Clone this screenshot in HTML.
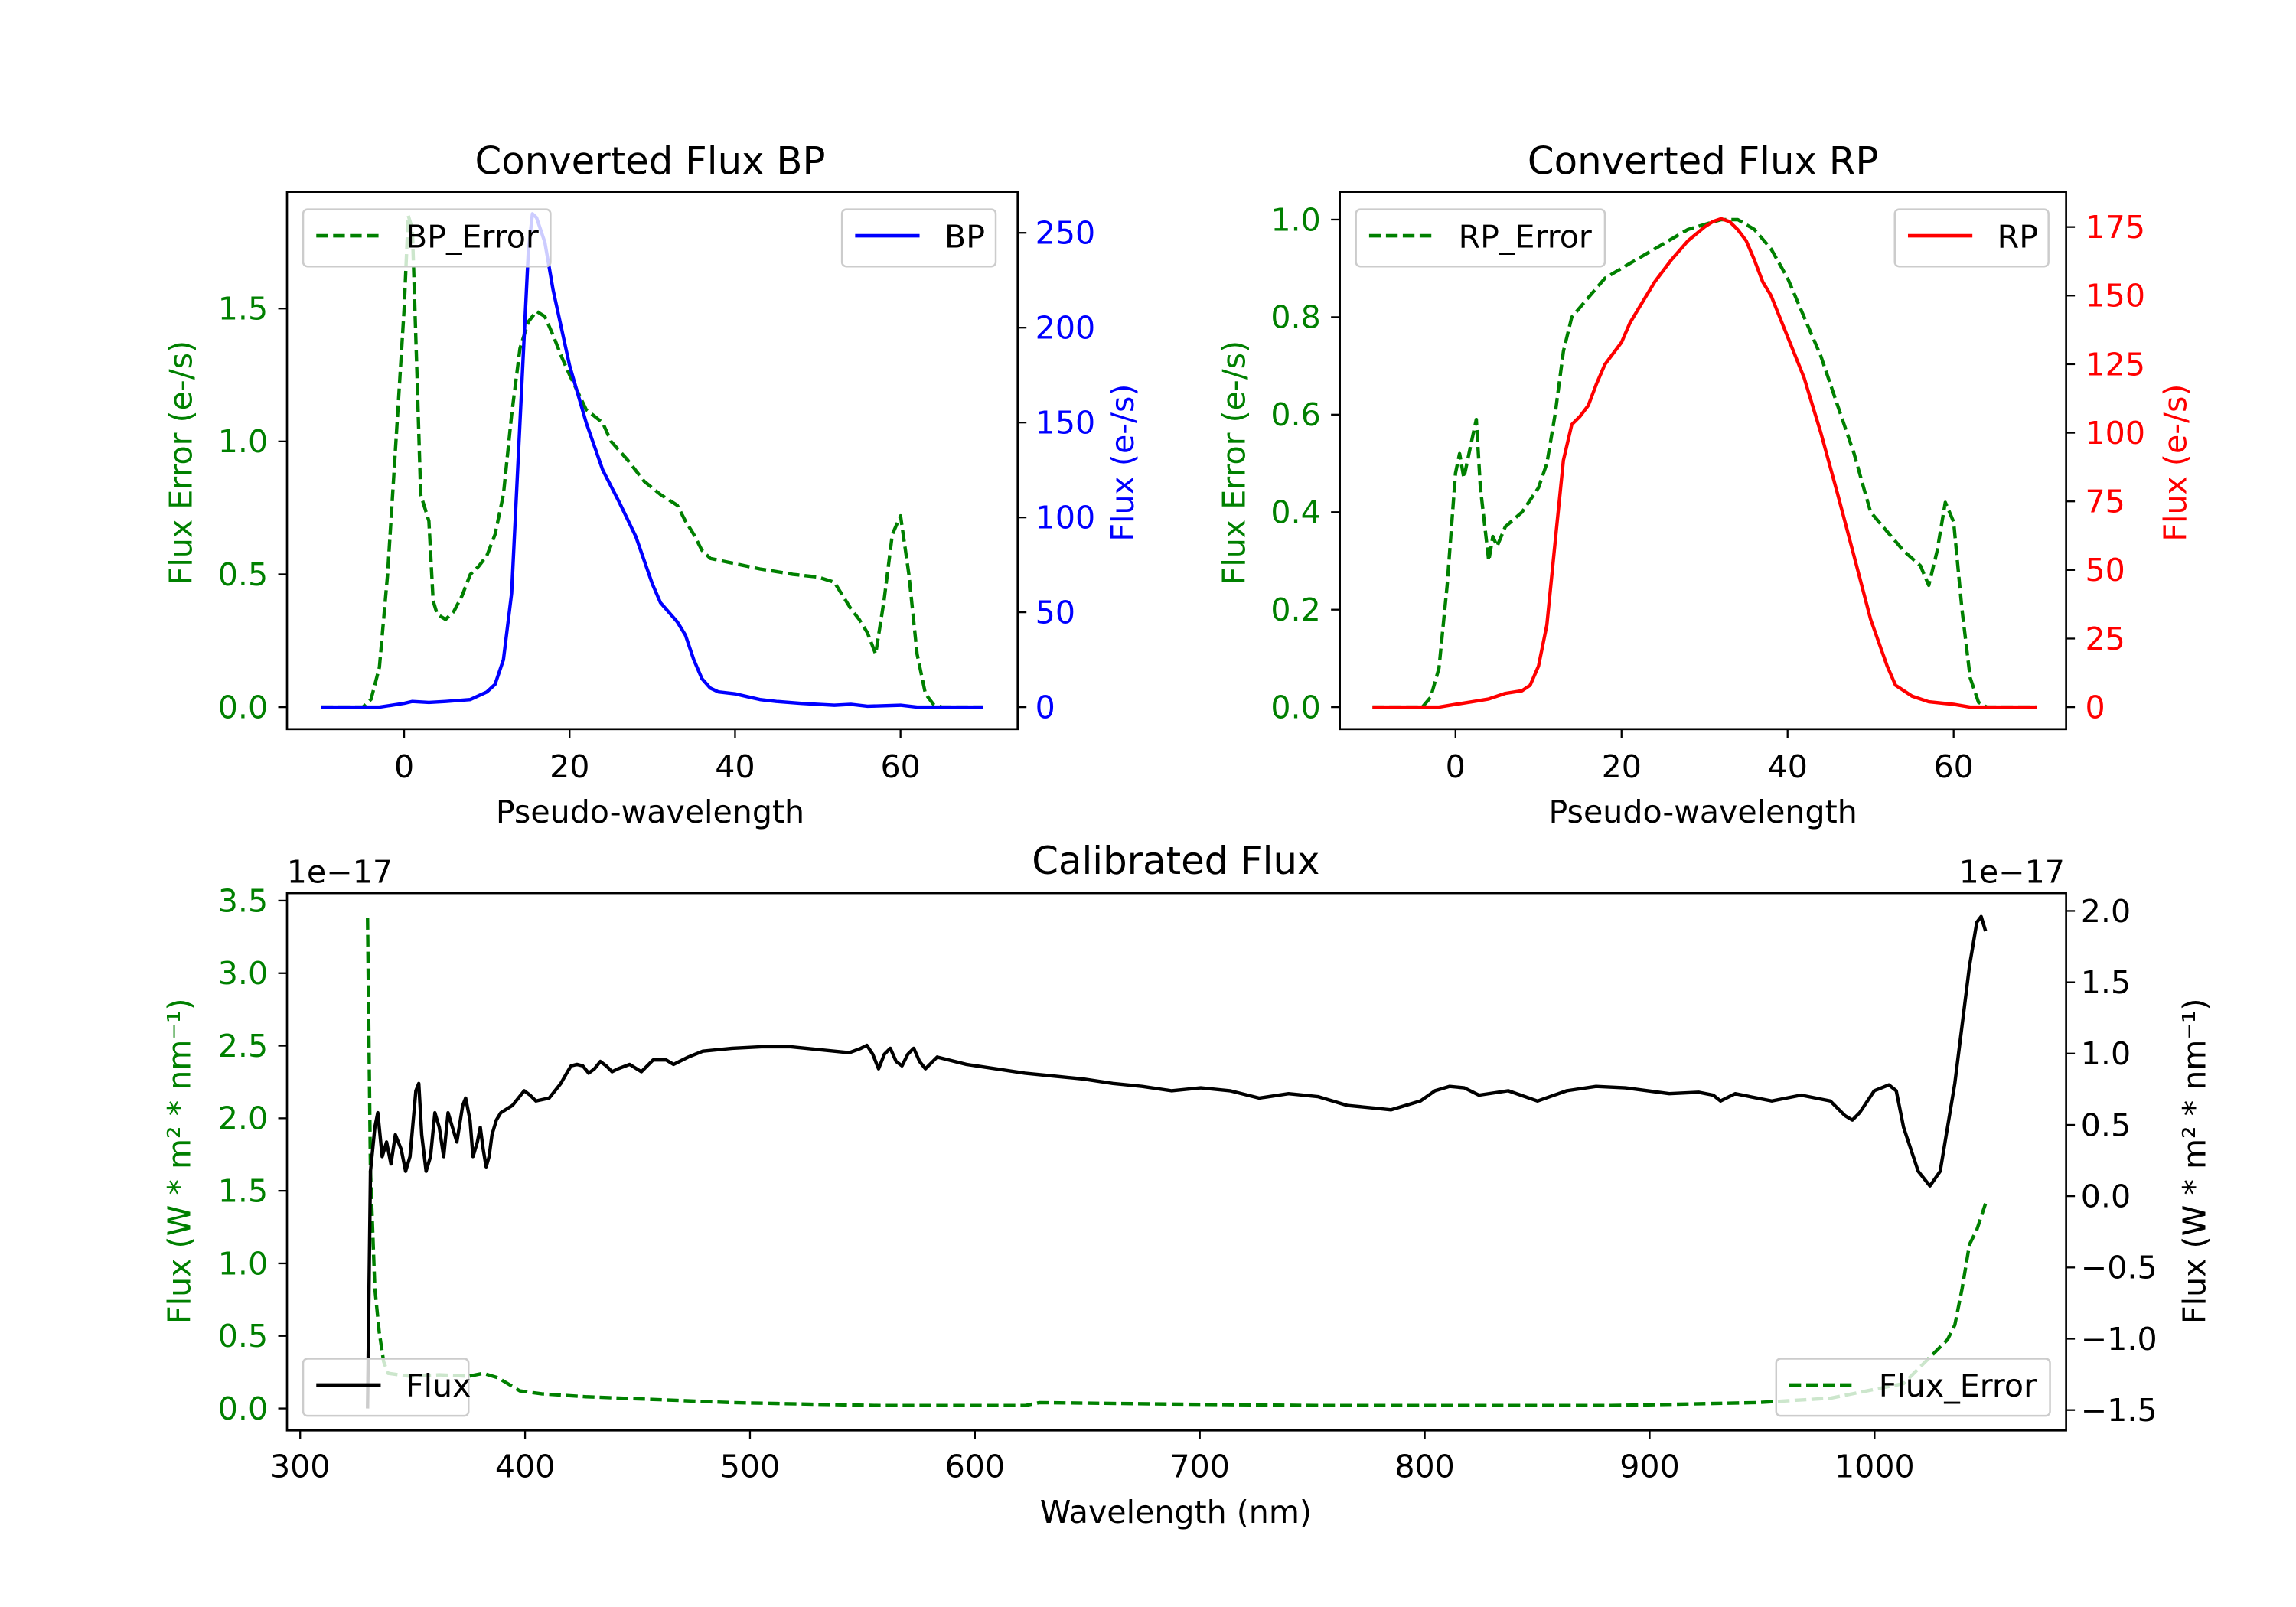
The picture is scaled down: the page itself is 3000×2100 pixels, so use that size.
<!DOCTYPE html>
<html><head><meta charset="utf-8"><style>
html,body{margin:0;padding:0;background:#fff;}
svg{display:block;}
text{font-family:"DejaVu Sans","Liberation Sans",sans-serif;}
</style></head><body>
<svg id="s" width="3000" height="2100" viewBox="0 0 1568 1097.6" preserveAspectRatio="none" xmlns="http://www.w3.org/2000/svg">
<rect width="1568" height="1098" fill="#fff"/>
<g id="g"></g>
<g font-size="26" text-anchor="middle" fill="#000">
<text x="444" y="119">Converted Flux BP</text>
<text x="1163" y="119">Converted Flux RP</text>
<text x="803" y="597">Calibrated Flux</text>
</g>
<g font-size="21.5" text-anchor="middle">
<text x="444" y="562">Pseudo-wavelength</text>
<text x="1163" y="562">Pseudo-wavelength</text>
<text x="803" y="1040">Wavelength (nm)</text>
<text x="232" y="603">1e−17</text>
<text x="1374" y="603">1e−17</text>
</g>
<g font-size="21.5" text-anchor="middle">
<text transform="translate(131,316) rotate(-90)" fill="green">Flux Error (e-/s)</text>
<text transform="translate(774,316) rotate(-90)" fill="blue">Flux (e-/s)</text>
<text transform="translate(850,316) rotate(-90)" fill="green">Flux Error (e-/s)</text>
<text transform="translate(1493,316) rotate(-90)" fill="red">Flux (e-/s)</text>
<text transform="translate(130,793) rotate(-90)" fill="green">Flux (W * m² * nm⁻¹)</text>
<text transform="translate(1506,793) rotate(-90)" fill="#000">Flux (W * m² * nm⁻¹)</text>
</g>
</svg>
<script>
var g=document.getElementById('g'),h='';
function L(x1,y1,x2,y2,c,w){h+='<line x1="'+x1+'" y1="'+y1+'" x2="'+x2+'" y2="'+y2+'" stroke="'+c+'" stroke-width="'+(w||1.2)+'"/>';}
function T(x,y,s,c,a){h+='<text x="'+x+'" y="'+y+'" font-size="21.5" fill="'+c+'" text-anchor="'+a+'">'+s+'</text>';}
function P(pts,c,dash,w){h+='<polyline fill="none" stroke="'+c+'" stroke-width="'+(w||2.3)+'" stroke-linejoin="round" '+(dash?'stroke-dasharray="8,3.5" ':'')+'points="'+pts.map(function(p){return p[0].toFixed(1)+','+p[1].toFixed(1)}).join(' ')+'"/>';}
function map(d,fx,fy){return d.map(function(p){return [fx(p[0]),fy(p[1])]});}
function box(x0,y0,x1,y1){h+='<rect x="'+x0+'" y="'+y0+'" width="'+(x1-x0)+'" height="'+(y1-y0)+'" fill="none" stroke="#000" stroke-width="1.4"/>';}
var bx=function(x){return 276+5.65*x}, byl=function(v){return 483-181.5*v}, byr=function(v){return 483-1.296*v};
[0,20,40,60].forEach(function(v){L(bx(v),498,bx(v),504,'#000');T(bx(v),531,v,'#000','middle');});
[0,0.5,1,1.5].forEach(function(v){L(190,byl(v),196,byl(v),'#000');T(183,byl(v)+7.5,v.toFixed(1),'green','end');});
[0,50,100,150,200,250].forEach(function(v){L(695,byr(v),701,byr(v),'#000');T(707,byr(v)+7.5,v,'blue','start');});
var bpe=[[-10,0],[-5,0],[-4,0.03],[-3,0.15],[-2,0.5],[-1,1.0],[0,1.5],[0.5,1.85],[1,1.8],[1.5,1.3],[2,0.8],[3,0.7],[3.5,0.4],[4,0.35],[5,0.33],[6,0.36],[7,0.42],[8,0.5],[9,0.53],[10,0.57],[11,0.65],[12,0.8],[13,1.1],[14,1.35],[15,1.45],[16,1.49],[17,1.47],[18,1.4],[19,1.32],[20,1.25],[22,1.12],[24,1.07],[25,1.0],[27,0.93],[29,0.85],[31,0.8],[33,0.76],[34,0.7],[35,0.65],[36,0.59],[37,0.56],[40,0.54],[43,0.52],[45,0.51],[47,0.5],[50,0.49],[52,0.47],[53,0.42],[54,0.37],[55,0.33],[56,0.28],[57,0.2],[58,0.4],[59,0.65],[60,0.72],[61,0.5],[62,0.2],[63,0.05],[64,0.01],[65,0],[70,0]];
var bp=[[-10,0],[-3,0],[0,2],[1,3],[3,2.5],[5,3],[8,4],[10,8],[11,12],[12,25],[13,60],[14,150],[15,240],[15.5,260],[16,258],[17,245],[18,220],[20,180],[22,150],[24,125],[26,108],[28,90],[30,65],[31,55],[33,45],[34,38],[35,25],[36,15],[37,10],[38,8],[40,7],[42,5],[43,4],[45,3],[48,2],[50,1.5],[52,1],[54,1.5],[56,0.5],[60,1],[62,0],[70,0]];
P(map(bpe,bx,byl),'green',1);
P(map(bp,bx,byr),'blue',0);
box(196,131,695,498);
var rx=function(x){return 994+5.67*x}, ryl=function(v){return 483-333*v}, ryr=function(v){return 483-1.874*v};
[0,20,40,60].forEach(function(v){L(rx(v),498,rx(v),504,'#000');T(rx(v),531,v,'#000','middle');});
[0,0.2,0.4,0.6,0.8,1.0].forEach(function(v){L(909,ryl(v),915,ryl(v),'#000');T(902,ryl(v)+7.5,v.toFixed(1),'green','end');});
[0,25,50,75,100,125,150,175].forEach(function(v){L(1411,ryr(v),1417,ryr(v),'#000');T(1424,ryr(v)+7.5,v,'red','start');});
var rpe=[[-10,0],[-4,0],[-3,0.02],[-2,0.08],[-1,0.25],[0,0.48],[0.5,0.52],[1,0.47],[2,0.55],[2.5,0.59],[3,0.45],[4,0.3],[4.5,0.35],[5,0.33],[6,0.37],[8,0.4],[10,0.45],[11,0.5],[12,0.6],[13,0.73],[14,0.8],[16,0.84],[18,0.88],[20,0.9],[22,0.92],[24,0.94],[26,0.96],[28,0.98],[30,0.99],[32,1.0],[34,1.0],[36,0.98],[38,0.94],[40,0.88],[42,0.8],[44,0.72],[46,0.62],[48,0.52],[49,0.46],[50,0.4],[52,0.36],[54,0.32],[56,0.29],[57,0.25],[58,0.32],[59,0.42],[60,0.38],[61,0.2],[62,0.06],[63,0.01],[64,0],[70,0]];
var rp=[[-10,0],[-2,0],[0,1],[2,2],[4,3],[6,5],[8,6],[9,8],[10,15],[11,30],[12,60],[13,90],[14,103],[15,106],[16,110],[17,118],[18,125],[20,133],[21,140],[22,145],[24,155],[26,163],[28,170],[30,175],[31,177],[32,178],[33,177],[34,174],[35,170],[36,163],[37,155],[38,150],[40,135],[42,120],[44,100],[46,78],[48,55],[50,32],[52,15],[53,8],[55,4],[57,2],[60,1],[62,0],[70,0]];
P(map(rpe,rx,ryl),'green',1);
P(map(rp,rx,ryr),'red',0);
box(915,131,1411,498);
var cx=function(x){return 205+1.536*(x-300)}, cyl=function(v){return 962-99.1*v}, cyr=function(v){return 817-97.4*v};
[300,400,500,600,700,800,900,1000].forEach(function(v){L(cx(v),977,cx(v),983,'#000');T(cx(v),1009,v,'#000','middle');});
[0,0.5,1,1.5,2,2.5,3,3.5].forEach(function(v){L(190,cyl(v),196,cyl(v),'#000');T(183,cyl(v)+7.5,v.toFixed(1),'green','end');});
[-1.5,-1,-0.5,0,0.5,1,1.5,2].forEach(function(v){L(1411,cyr(v),1417,cyr(v),'#000');T(1421,cyr(v)+7.5,(v<0?'−':'')+Math.abs(v).toFixed(1),'#000','start');});
var fe=[[251,627],[253,800],[256,880],[259,910],[262,930],[265,938],[280,940],[300,939],[320,940],[330,938],[340,941],[355,950],[370,952],[400,954],[450,956],[500,958],[550,959],[600,960],[650,960],[700,960],[710,958],[800,959],[900,960],[1000,960],[1100,960],[1150,959],[1200,958],[1250,955],[1300,945],[1320,925],[1330,915],[1335,905],[1340,880],[1345,850],[1350,840],[1356,822]];
var fl=[[251,962],[253,800],[256,770],[258,760],[261,790],[264,780],[267,795],[270,775],[274,785],[277,800],[280,790],[284,745],[286,740],[288,775],[291,800],[294,790],[297,760],[300,770],[303,790],[306,760],[309,770],[312,780],[316,755],[318,750],[321,765],[323,790],[326,780],[328,770],[330,785],[332,797],[334,790],[336,775],[339,765],[342,760],[350,755],[358,745],[362,748],[366,752],[375,750],[383,740],[387,733],[390,728],[394,727],[398,728],[402,733],[406,730],[410,725],[414,728],[418,732],[422,730],[430,727],[438,732],[446,724],[455,724],[460,727],[470,722],[480,718],[500,716],[520,715],[540,715],[560,717],[580,719],[588,716],[592,714],[596,720],[600,730],[604,720],[608,716],[612,725],[616,728],[620,720],[624,716],[628,725],[632,730],[640,722],[660,727],[680,730],[700,733],[720,735],[740,737],[760,740],[780,742],[800,745],[820,743],[840,745],[860,750],[880,747],[900,749],[920,755],[940,757],[950,758],[970,752],[980,745],[990,742],[1000,743],[1010,748],[1030,745],[1050,752],[1070,745],[1090,742],[1110,743],[1140,747],[1160,746],[1170,748],[1175,752],[1185,747],[1210,752],[1230,748],[1250,752],[1260,762],[1265,765],[1270,760],[1280,745],[1290,741],[1295,745],[1300,770],[1310,800],[1318,810],[1325,800],[1335,740],[1345,660],[1350,630],[1353,626],[1356,636]];
P(fe,'green',1);
P(fl,'#000',0);
box(196,610,1411,977);
function leg(x0,y0,w,label,c,dash){h+='<rect x="'+x0+'" y="'+y0+'" width="'+w+'" height="39" rx="3" fill="#fff" fill-opacity="0.8" stroke="#ccc" stroke-width="1.3"/>';
h+='<line x1="'+(x0+9)+'" y1="'+(y0+18)+'" x2="'+(x0+53)+'" y2="'+(y0+18)+'" stroke="'+c+'" stroke-width="2.4" '+(dash?'stroke-dasharray="8,3.5"':'')+'/>';
h+='<text x="'+(x0+70)+'" y="'+(y0+26)+'" font-size="21.5" fill="#000" text-anchor="start">'+label+'</text>';}
leg(207,143,169,'BP_Error','green',1);
leg(575,143,105,'BP','blue',0);
leg(926,143,170,'RP_Error','green',1);
leg(1294,143,105,'RP','red',0);
leg(207,928,113,'Flux','#000',0);
leg(1213,928,187,'Flux_Error','green',1);
g.innerHTML=h;
</script>
</body></html>
